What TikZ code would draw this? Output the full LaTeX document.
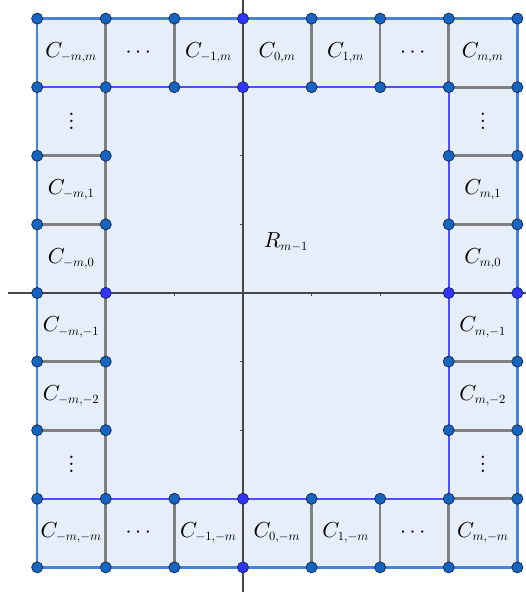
\documentclass[tikz,border=0pt]{standalone}
\usepackage{amsmath}
\DeclareFontShape{OML}{cmm}{m}{it}{<->cmmi10}{}
\DeclareFontShape{OMS}{cmsy}{m}{n}{<->cmsy10}{}
\DeclareFontShape{OT1}{cmr}{m}{n}{<->cmr10}{}
\DeclareMathSizes{9}{9}{5.2}{4}
\newcommand{\tightvdots}{\vbox{\baselineskip=2.8pt\lineskiplimit=0pt\hbox{.}\hbox{.}\hbox{.}}}
\definecolor{cellfill}{RGB}{230,238,249}
\definecolor{outerblue}{RGB}{70,130,222}
\definecolor{innerblue}{RGB}{80,80,250}
\definecolor{gridgray}{RGB}{128,128,128}
\definecolor{axisgray}{RGB}{70,70,75}
\definecolor{dotdark}{RGB}{21,101,192}
\definecolor{dotbright}{RGB}{51,51,255}
\definecolor{dotedge}{RGB}{20,40,80}
\tikzset{
  gridline/.style={draw=gridgray, line width=1.1pt},
  outerline/.style={draw=outerblue, line width=1pt},
  innerline/.style={draw=innerblue, line width=0.9pt},
  axisline/.style={draw=axisgray, line width=0.55pt},
  tickline/.style={draw=axisgray, line width=0.4pt},
  dotd/.style={circle, fill=dotdark, draw=dotedge, line width=0.3pt, inner sep=0pt, minimum size=4.6pt},
  dotb/.style={circle, fill=dotbright, draw=dotedge, line width=0.3pt, inner sep=0pt, minimum size=4.6pt},
  lab/.style={font=\fontsize{9}{11}\selectfont, inner sep=0pt}
}
\begin{document}
\begin{tikzpicture}
\useasboundingbox (-3.542,-4.359) rectangle (4.125,4.271);
% grid coordinates: i=0..7 -> x=-3..4, j=0..8 -> y=-4..4
\foreach \i in {0,...,7}{
  \foreach \j in {0,...,8}{
    \coordinate (g\i\j) at ({\i-3},{\j-4});
  }
}
% axis end points
\coordinate (axL) at (-3.43,0);
\coordinate (axR) at (4.125,0);
\coordinate (axT) at (0,4.271);
\coordinate (axB) at (0,-4.359);
% fill
\fill[cellfill] (g00) rectangle (g78);
% gray cell walls
\draw[gridline] (g10) -- (g18);
\foreach \i in {2,4,5,6}{
  \draw[gridline] (g\i7) -- (g\i8);
  \draw[gridline] (g\i0) -- (g\i1);
}
\foreach \j in {2,3,5,6}{
  \draw[gridline] (g0\j) -- (g1\j);
}
\foreach \j in {1,2,3,4,5,6,7}{
  \draw[gridline] (g6\j) -- (g7\j);
}
% axes
\draw[axisline] (axL) -- (axR);
\draw[axisline] (axT) -- (axB);
\foreach \x in {-3,-2,-1,1,2,3,4}{
  \draw[tickline] (\x,0) -- (\x,-0.045);
}
\foreach \y in {-4,-3,-2,-1,1,2,3,4}{
  \draw[tickline] (0,\y) -- (-0.045,\y);
}
% inner boundary (purple-blue)
\draw[innerline] (g07) -- (g67) -- (g61) -- (g01);
% outer boundary
\draw[outerline] (g00) -- (g70) -- (g78) -- (g08) -- cycle;
% dots
\foreach \i in {0,1,2,4,5,6,7}{
  \node[dotd] (dt\i8) at (g\i8) {};
  \node[dotd] (dt\i7) at (g\i7) {};
  \node[dotd] (dt\i1) at (g\i1) {};
  \node[dotd] (dt\i0) at (g\i0) {};
}
\foreach \i in {0,1,6,7}{
  \foreach \j in {2,3,5,6}{
    \node[dotd] (dt\i\j) at (g\i\j) {};
  }
}
\node[dotd] (dt04) at (g04) {};
\node[dotb] (db38) at (g38) {};
\node[dotb] (db37) at (g37) {};
\node[dotb] (db31) at (g31) {};
\node[dotb] (db30) at (g30) {};
\node[dotb] (db14) at (g14) {};
\node[dotb] (db64) at (g64) {};
\node[dotb] (db74) at (g74) {};
% top row labels
\node[lab] (t1) at (-2.5,3.5) {$C_{-m,m}$};
\node[lab] (t2) at (-1.5,3.5) {$\cdots$};
\node[lab] (t3) at (-0.5,3.5) {$C_{-1,m}$};
\node[lab] (t4) at (0.5,3.5) {$C_{0,m}$};
\node[lab] (t5) at (1.5,3.5) {$C_{1,m}$};
\node[lab] (t6) at (2.5,3.5) {$\cdots$};
\node[lab] (t7) at (3.5,3.5) {$C_{m,m}$};
% bottom row labels
\node[lab] (b1) at (-2.5,-3.5) {$C_{-m,-m}$};
\node[lab] (b2) at (-1.5,-3.5) {$\cdots$};
\node[lab] (b3) at (-0.5,-3.5) {$C_{-1,-m}$};
\node[lab] (b4) at (0.5,-3.5) {$C_{0,-m}$};
\node[lab] (b5) at (1.5,-3.5) {$C_{1,-m}$};
\node[lab] (b6) at (2.5,-3.5) {$\cdots$};
\node[lab] (b7) at (3.5,-3.5) {$C_{m,-m}$};
% left column labels
\node[lab] (l1) at (-2.5,2.5) {\tightvdots};
\node[lab] (l2) at (-2.5,1.5) {$C_{-m,1}$};
\node[lab] (l3) at (-2.5,0.5) {$C_{-m,0}$};
\node[lab] (l4) at (-2.5,-0.5) {$C_{-m,-1}$};
\node[lab] (l5) at (-2.5,-1.5) {$C_{-m,-2}$};
\node[lab] (l6) at (-2.5,-2.5) {\tightvdots};
% right column labels
\node[lab] (r1) at (3.5,2.5) {\tightvdots};
\node[lab] (r2) at (3.5,1.5) {$C_{m,1}$};
\node[lab] (r3) at (3.5,0.5) {$C_{m,0}$};
\node[lab] (r4) at (3.5,-0.5) {$C_{m,-1}$};
\node[lab] (r5) at (3.5,-1.5) {$C_{m,-2}$};
\node[lab] (r6) at (3.5,-2.5) {\tightvdots};
% centre label
\node[lab] (rm) at (0.63,0.74) {$R_{m-1}$};
\end{tikzpicture}
\end{document}
